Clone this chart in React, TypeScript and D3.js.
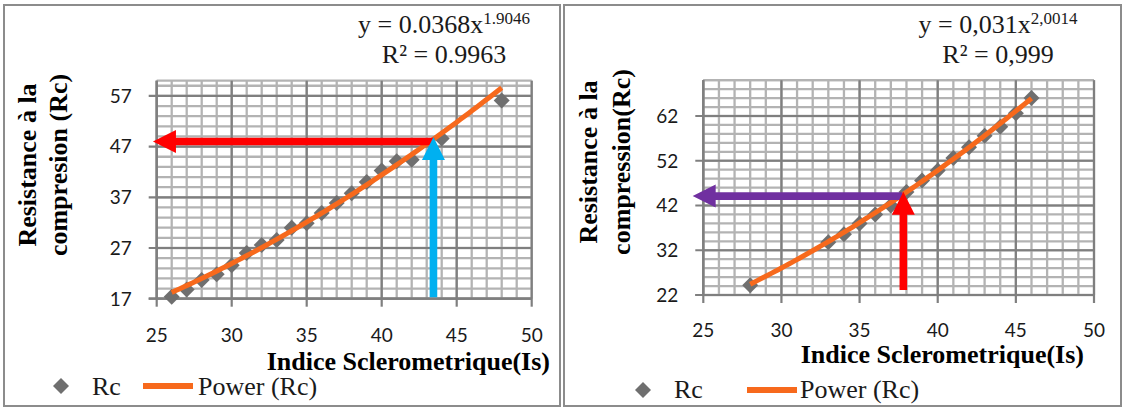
import React from "react";
import * as d3 from "d3";

// ---------- data (left chart) ----------
const leftIs = [26, 27, 28, 29, 30, 31, 32, 33, 34, 35, 36, 37, 38, 39, 40, 41, 42, 44, 48];
const leftRc = [17.4, 18.8, 20.7, 21.8, 23.6, 26.0, 27.6, 28.6, 31.0, 31.9, 33.9, 35.9, 37.8, 40.0, 42.3, 44.1, 44.4, 48.6, 56.1];
const leftCoef = 0.0368;
const leftExp = 1.9046;
const leftYTicks = [17, 27, 37, 47, 57];
const leftEq = ["y = 0.0368x", "1.9046", "R² = 0.9963"];
const leftYTitle = ["Resistance à la", "compresion (Rc)"];
// arrows in data units: horizontal [tipX, endX, y], vertical [x, tipY, endY]
const leftHArrow = [24.75, 43.5, 48.0];
const leftVArrow = [43.45, 48.9, 17.3];

// ---------- data (right chart) ----------
const rightIs = [28, 33, 34, 35, 36, 37, 38, 39, 40, 41, 42, 43, 44, 45, 46];
const rightRc = [24.2, 33.8, 35.6, 38.0, 40.0, 42.0, 45.0, 47.6, 49.8, 52.6, 55.0, 57.6, 59.6, 62.6, 66.0];
const rightCoef = 0.031;
const rightExp = 2.0014;
const rightYTicks = [22, 32, 42, 52, 62];
const rightEq = ["y = 0,031x", "2,0014", "R² = 0,999"];
const rightYTitle = ["Resistance à la", "compression(Rc)"];
const rightHArrow = [24.32, 37.75, 44.1];
const rightVArrow = [37.8, 45.1, 23.1];

const xTicks = [25, 30, 35, 40, 45, 50];
const legendLabels = ["Rc", "Power (Rc)"];
const xTitle = "Indice Sclerometrique(Is)";

const SERIF = "'Liberation Serif', 'Times New Roman', serif";
const SANS = "Lato, 'Liberation Sans', sans-serif";
const ORANGE = "#F7691C";
const GREY_PT = "#6F6F6F";

type Cfg = {
  box: [number, number, number, number];
  plot: { x0: number; x1: number; y0: number; y1: number };
  xDomain: [number, number];
  yDomain: [number, number];
  xs: number[];
  ys: number[];
  coef: number;
  expo: number;
  yTicks: number[];
  eq: string[];
  eqCx: number;
  yTitle: string[];
  yTitleX: [number, number];
  yTitleCy: number;
  xTitleRight: number;
  xTitleBaseline: number;
  xTickBaseline: number;
  hArrow: number[];
  vArrow: number[];
  hColor: string;
  vColor: string;
  legend: { dx: number; tx: number; lx0: number; lx1: number; px: number; y: number; base: number };
};

function Panel({ c }: { c: Cfg }) {
  const { plot } = c;
  const x = d3.scaleLinear().domain(c.xDomain).range([plot.x0, plot.x1]);
  const y = d3.scaleLinear().domain(c.yDomain).range([plot.y1, plot.y0]);
  const xMinor = d3.range(c.xDomain[0], c.xDomain[1] + 0.001, 1);
  const yMinor = d3.range(c.yDomain[0], c.yDomain[1] + 0.001, 2);
  const xMin = d3.min(c.xs)!;
  const xMax = d3.max(c.xs)!;
  const trendX = d3.range(xMin, xMax + 0.0001, (xMax - xMin) / 80);
  const line = d3
    .line<number>()
    .x((d) => x(d))
    .y((d) => y(c.coef * Math.pow(d, c.expo)));
  const diamond = (cx: number, cy: number, r: number) =>
    `M${cx},${cy - r}L${cx + r},${cy}L${cx},${cy + r}L${cx - r},${cy}Z`;

  const [htip, hend, hy] = c.hArrow;
  const hx0 = x(htip), hx1 = x(hend), hyy = y(hy);
  const sh = 3.8, hl = 23, hh = 11.5;
  const hPts = [
    [hx0, hyy], [hx0 + hl, hyy - hh], [hx0 + hl, hyy - sh], [hx1, hyy - sh],
    [hx1, hyy + sh], [hx0 + hl, hyy + sh], [hx0 + hl, hyy + hh],
  ];
  const [vx, vtip, vend] = c.vArrow;
  const vxx = x(vx), vy0 = y(vtip), vy1 = y(vend);
  const vPts = [
    [vxx, vy0], [vxx + hh, vy0 + hl], [vxx + sh, vy0 + hl], [vxx + sh, vy1],
    [vxx - sh, vy1], [vxx - sh, vy0 + hl], [vxx - hh, vy0 + hl],
  ];
  const [bx, by, bw, bh] = c.box;
  const MINOR = "#B3B3B3";
  const MAJOR = "#7F7F7F";
  return (
    <g>
      <rect x={bx} y={by} width={bw} height={bh} fill="#fff" stroke="#8c8c8c" strokeWidth={2} />
      {xMinor.map((v) => (
        <line key={"xm" + v} x1={x(v)} x2={x(v)} y1={plot.y0} y2={plot.y1} stroke={MINOR} strokeWidth={2.3} />
      ))}
      {yMinor.map((v) => (
        <line key={"ym" + v} x1={plot.x0} x2={plot.x1} y1={y(v)} y2={y(v)} stroke={MINOR} strokeWidth={2.3} />
      ))}
      <line x1={plot.x0} x2={plot.x1} y1={plot.y0} y2={plot.y0} stroke={MINOR} strokeWidth={2.3} />
      {xTicks.map((v) => (
        <g key={"xt" + v}>
          <line x1={x(v)} x2={x(v)} y1={plot.y0} y2={plot.y1 + 8} stroke={MAJOR} strokeWidth={2.2} />
          <text x={x(v)} y={c.xTickBaseline} textAnchor="middle" fontFamily={SANS} fontSize={19} fill="#1a1a1a">
            {v}
          </text>
        </g>
      ))}
      {c.yTicks.map((v) => (
        <g key={"yt" + v}>
          <line x1={plot.x0 - 8} x2={plot.x1} y1={y(v)} y2={y(v)} stroke={MAJOR} strokeWidth={2.2} />
          <text x={plot.x0 - 25} y={y(v) + 6.8} textAnchor="end" fontFamily={SANS} fontSize={19} fill="#1a1a1a">
            {v}
          </text>
        </g>
      ))}
      <line x1={plot.x0} x2={plot.x0} y1={plot.y0} y2={plot.y1} stroke={MAJOR} strokeWidth={2.2} />
      <line x1={plot.x0 - 8} x2={plot.x1} y1={plot.y1} y2={plot.y1} stroke={MAJOR} strokeWidth={2.2} />
      {c.xs.map((v, i) => (
        <path key={"p" + i} d={diamond(x(v), y(c.ys[i]), 8)} fill={GREY_PT} />
      ))}
      <path d={line(trendX)!} fill="none" stroke={ORANGE} strokeWidth={5} />
      <polygon points={hPts.map((p) => p.join(",")).join(" ")} fill={c.hColor} />
      <polygon points={vPts.map((p) => p.join(",")).join(" ")} fill={c.vColor} />
      <text x={c.eqCx} y={33} textAnchor="middle" fontFamily={SERIF} fontSize={26} fill="#1a1a1a">
        {c.eq[0]}
        <tspan fontSize={17} dy={-9}>{c.eq[1]}</tspan>
      </text>
      <text x={c.eqCx} y={63} textAnchor="middle" fontFamily={SERIF} fontSize={26} fill="#1a1a1a">
        {c.eq[2]}
      </text>
      <text x={c.xTitleRight} y={c.xTitleBaseline} textAnchor="end" fontFamily={SERIF} fontWeight="bold" fontSize={26} fill="#000">
        {xTitle}
      </text>
      {c.yTitle.map((t, i) => (
        <text
          key={"yt" + i}
          transform={`translate(${c.yTitleX[i]},${c.yTitleCy}) rotate(-90)`}
          textAnchor="middle"
          fontFamily={SERIF}
          fontWeight="bold"
          fontSize={26}
          fill="#000"
        >
          {t}
        </text>
      ))}
      <path d={diamond(c.legend.dx, c.legend.y, 8)} fill={GREY_PT} />
      <text x={c.legend.tx} y={c.legend.base} fontFamily={SERIF} fontSize={26} fill="#1a1a1a">
        {legendLabels[0]}
      </text>
      <line x1={c.legend.lx0} x2={c.legend.lx1} y1={c.legend.y} y2={c.legend.y} stroke={ORANGE} strokeWidth={6} />
      <text x={c.legend.px} y={c.legend.base} fontFamily={SERIF} fontSize={26} fill="#1a1a1a">
        {legendLabels[1]}
      </text>
    </g>
  );
}

const leftCfg: Cfg = {
  box: [4, 5, 556, 401],
  plot: { x0: 156.7, x1: 531.7, y0: 80.7, y1: 298.7 },
  xDomain: [25, 50],
  yDomain: [17, 60],
  xs: leftIs,
  ys: leftRc,
  coef: leftCoef,
  expo: leftExp,
  yTicks: leftYTicks,
  eq: leftEq,
  eqCx: 444,
  yTitle: leftYTitle,
  yTitleX: [36, 67],
  yTitleCy: 165,
  xTitleRight: 550,
  xTitleBaseline: 370,
  xTickBaseline: 342,
  hArrow: leftHArrow,
  vArrow: leftVArrow,
  hColor: "#FF0000",
  vColor: "#00B0F0",
  legend: { dx: 61, tx: 92, lx0: 143, lx1: 193, px: 198, y: 386, base: 395 },
};

const rightCfg: Cfg = {
  box: [564, 5, 557, 401],
  plot: { x0: 703.3, x1: 1094, y0: 80.2, y1: 295 },
  xDomain: [25, 50],
  yDomain: [22, 70],
  xs: rightIs,
  ys: rightRc,
  coef: rightCoef,
  expo: rightExp,
  yTicks: rightYTicks,
  eq: rightEq,
  eqCx: 998,
  yTitle: rightYTitle,
  yTitleX: [597, 630],
  yTitleCy: 162,
  xTitleRight: 1084,
  xTitleBaseline: 363,
  xTickBaseline: 337,
  hArrow: rightHArrow,
  vArrow: rightVArrow,
  hColor: "#7030A0",
  vColor: "#FF0000",
  legend: { dx: 643, tx: 674, lx0: 747, lx1: 797, px: 800, y: 390, base: 398 },
};

export default function App() {
  return (
    <svg
      width={1123}
      height={407}
      viewBox="0 0 1123 407"
      style={{ position: "absolute", left: 0, top: 0, background: "#fff" }}
    >
      <rect x={0} y={0} width={1123} height={407} fill="#fff" />
      <Panel c={leftCfg} />
      <Panel c={rightCfg} />
    </svg>
  );
}
